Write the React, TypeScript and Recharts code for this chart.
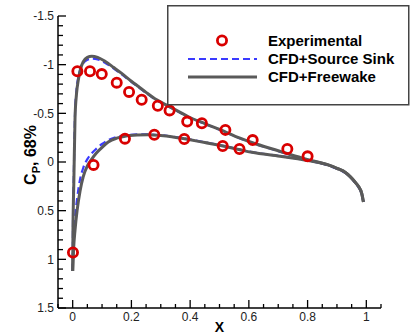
import React from 'react';
import { ComposedChart, Line, Scatter, XAxis, YAxis, Legend, Label } from 'recharts';

// ---------- data ----------
const expUpperX = [0.016, 0.059, 0.099, 0.15, 0.192, 0.235, 0.29, 0.33, 0.39, 0.44, 0.52, 0.613, 0.731, 0.8];
const expUpperCp = [-0.933, -0.933, -0.903, -0.815, -0.72, -0.64, -0.578, -0.53, -0.415, -0.398, -0.33, -0.225, -0.133, -0.058];
const expLowerX = [0.001, 0.071, 0.178, 0.278, 0.38, 0.511, 0.568];
const expLowerCp = [0.93, 0.03, -0.24, -0.28, -0.236, -0.164, -0.133];

const upperX = [0, 0.001, 0.004, 0.008, 0.013, 0.019, 0.027, 0.036, 0.05, 0.065, 0.085, 0.11, 0.14, 0.167, 0.2, 0.224, 0.25, 0.28, 0.32, 0.36, 0.394, 0.45, 0.5, 0.57, 0.61, 0.7, 0.76, 0.82, 0.87, 0.9, 0.93, 0.945, 0.96, 0.973, 0.985, 0.99];
const freewakeUpperCp = [1.12, 0.7, 0.2, -0.45, -0.7, -0.84, -0.96, -1.03, -1.075, -1.087, -1.075, -1.035, -0.97, -0.91, -0.83, -0.775, -0.715, -0.65, -0.585, -0.52, -0.465, -0.395, -0.335, -0.245, -0.2, -0.115, -0.06, -0.01, 0.03, 0.065, 0.11, 0.15, 0.2, 0.25, 0.33, 0.41];
const sourceSinkUpperCp = [1.12, 0.65, 0.1, -0.5, -0.74, -0.87, -0.96, -1.015, -1.05, -1.062, -1.055, -1.02, -0.96, -0.9, -0.822, -0.768, -0.71, -0.645, -0.58, -0.516, -0.462, -0.392, -0.332, -0.242, -0.197, -0.112, -0.056, -0.005, 0.035, 0.07, 0.115, 0.155, 0.205, 0.257, 0.335, 0.41];

const lowerX = [0, 0.003, 0.008, 0.015, 0.025, 0.036, 0.05, 0.065, 0.08, 0.1, 0.121, 0.15, 0.178, 0.22, 0.258, 0.3, 0.337, 0.4, 0.45, 0.5, 0.57, 0.61, 0.706, 0.76, 0.82, 0.87, 0.9, 0.93, 0.945, 0.96, 0.973, 0.985, 0.99];
const freewakeLowerCp = [1.12, 0.9, 0.7, 0.5, 0.3, 0.15, 0.04, -0.03, -0.09, -0.15, -0.205, -0.245, -0.265, -0.277, -0.28, -0.272, -0.26, -0.228, -0.2, -0.172, -0.125, -0.1, -0.06, -0.035, -0.005, 0.03, 0.065, 0.11, 0.15, 0.2, 0.25, 0.33, 0.41];
const sourceSinkLowerCp = [1.12, 0.82, 0.58, 0.38, 0.18, 0.06, -0.03, -0.09, -0.135, -0.185, -0.225, -0.258, -0.274, -0.283, -0.284, -0.275, -0.263, -0.23, -0.202, -0.174, -0.127, -0.102, -0.062, -0.037, -0.006, 0.03, 0.066, 0.112, 0.153, 0.203, 0.255, 0.335, 0.41];

const xTicks = [-0.05, 0, 0.05, 0.1, 0.15, 0.2, 0.25, 0.3, 0.35, 0.4, 0.45, 0.5, 0.55, 0.6, 0.65, 0.7, 0.75, 0.8, 0.85, 0.9, 0.95, 1, 1.05];
const xMajorTicks = [0, 0.2, 0.4, 0.6, 0.8, 1];
const xTickLabels = ['0', '0.2', '0.4', '0.6', '0.8', '1'];

const yTicks = [-1.5, -1.4, -1.3, -1.2, -1.1, -1, -0.9, -0.8, -0.7, -0.6, -0.5, -0.4, -0.3, -0.2, -0.1, 0, 0.1, 0.2, 0.3, 0.4, 0.5, 0.6, 0.7, 0.8, 0.9, 1, 1.1, 1.2, 1.3, 1.4, 1.5];
const yMajorTicks = [-1.5, -1, -0.5, 0, 0.5, 1, 1.5];
const yTickLabels = ['-1.5', '-1', '-0.5', '0', '0.5', '1', '1.5'];

const legendLabels = ['Experimental', 'CFD+Source Sink', 'CFD+Freewake'];

// ---------- helpers ----------
const toPoints = (xs: number[], ys: number[]) => xs.map((x, i) => ({ x, cp: ys[i] }));

const expData = [...toPoints(expUpperX, expUpperCp), ...toPoints(expLowerX, expLowerCp)];
const fwUpper = toPoints(upperX, freewakeUpperCp);
const fwLower = toPoints(lowerX, freewakeLowerCp);
const ssUpper = toPoints(upperX, sourceSinkUpperCp);
const ssLower = toPoints(lowerX, sourceSinkLowerCp);

const FONT = '"Liberation Sans", Arial, Helvetica, sans-serif';
const RED = '#d90000';
const BLUE = '#3a3aff';
const GRAY = '#5a5a5a';

const XTick = (props: any) => {
  const { x, y, payload } = props;
  const idx = xMajorTicks.indexOf(payload.value);
  const major = idx >= 0;
  return (
    <g>
      <line x1={x} x2={x} y1={y} y2={y - (major ? 8 : 4)} stroke="#000" strokeWidth={1.3} />
      {major && (
        <text x={x} y={y + 12.5} textAnchor="middle" fontSize={12} fontFamily={FONT} fill="#222">
          {xTickLabels[idx]}
        </text>
      )}
    </g>
  );
};

const YTick = (props: any) => {
  const { x, y, payload } = props;
  const idx = yMajorTicks.indexOf(payload.value);
  const major = idx >= 0;
  return (
    <g>
      <line x1={x} x2={x + (major ? 8 : 5)} y1={y} y2={y} stroke="#000" strokeWidth={1.3} />
      {major && (
        <text x={x - 4} y={y + 4.3} textAnchor="end" fontSize={12} fontFamily={FONT} fill="#222">
          {yTickLabels[idx]}
        </text>
      )}
    </g>
  );
};

const LegendBox = () => (
  <svg width={243} height={101} style={{ display: 'block' }}>
    <rect x={0.75} y={0.75} width={241} height={99} fill="none" stroke="#444" strokeWidth={1.5} />
    <circle cx={55} cy={35.5} r={4.6} fill="none" stroke={RED} strokeWidth={2.8} />
    <line x1={21} x2={90} y1={54} y2={54} stroke={BLUE} strokeWidth={2.2} strokeDasharray="7 4" />
    <line x1={21} x2={90} y1={72} y2={72} stroke={GRAY} strokeWidth={3} />
    {legendLabels.map((t, i) => (
      <text key={t} x={101} y={41 + i * 18} fontSize={15} fontWeight="bold" fontFamily={FONT} fill="#000">
        {t}
      </text>
    ))}
  </svg>
);

const ExpMarker = (props: any) => {
  const { cx, cy } = props;
  if (cx == null || cy == null) return null;
  return <circle cx={cx} cy={cy} r={4.6} fill="none" stroke={RED} strokeWidth={2.8} />;
};

export default function App() {
  return (
    <div style={{ position: 'absolute', left: 0, top: 0, width: 410, height: 334, background: '#fff' }}>
      <ComposedChart width={410} height={334} margin={{ top: 16, right: 29, bottom: 0, left: 0 }}>
        <XAxis
          type="number"
          dataKey="x"
          domain={[-0.05, 1.05]}
          ticks={xTicks}
          interval={0}
          tick={<XTick />}
          tickLine={false}
          tickSize={0}
          tickMargin={0}
          height={26}
          axisLine={{ stroke: '#000', strokeWidth: 1.5 }}
        >
          <Label
            content={(p: any) => {
              const vb = p.viewBox || { x: 58, width: 323, y: 308 };
              return (
                <text x={vb.x + vb.width / 2} y={332} textAnchor="middle" fontSize={14} fontWeight="bold" fontFamily={FONT} fill="#000">
                  X
                </text>
              );
            }}
          />
        </XAxis>
        <YAxis
          type="number"
          dataKey="cp"
          domain={[-1.5, 1.5]}
          reversed
          ticks={yTicks}
          interval={0}
          tick={<YTick />}
          tickLine={false}
          tickSize={0}
          tickMargin={0}
          width={58}
          axisLine={{ stroke: '#000', strokeWidth: 1.5 }}
        >
          <Label
            content={(p: any) => {
              const vb = p.viewBox || { y: 16, height: 292 };
              const cy = vb.y + vb.height / 2 - 7;
              return (
                <text transform={`translate(36,${cy}) rotate(-90)`} textAnchor="middle" fontSize={16} fontWeight="bold" fontFamily={FONT} fill="#000">
                  C<tspan fontSize={11} dy={4}>P</tspan><tspan dy={-4}>, 68%</tspan>
                </text>
              );
            }}
          />
        </YAxis>
        <Scatter data={expData} isAnimationActive={false} shape={<ExpMarker />} />
        <Line data={ssUpper} dataKey="cp" type="monotone" stroke={BLUE} strokeWidth={2.2} strokeDasharray="7 4" dot={false} activeDot={false} isAnimationActive={false} />
        <Line data={ssLower} dataKey="cp" type="monotone" stroke={BLUE} strokeWidth={2.2} strokeDasharray="7 4" dot={false} activeDot={false} isAnimationActive={false} />
        <Line data={fwUpper} dataKey="cp" type="monotone" stroke={GRAY} strokeWidth={3} dot={false} activeDot={false} isAnimationActive={false} />
        <Line data={fwLower} dataKey="cp" type="monotone" stroke={GRAY} strokeWidth={3} dot={false} activeDot={false} isAnimationActive={false} />
        <Legend
          verticalAlign="middle"
          align="center"
          layout="horizontal"
          wrapperStyle={{ position: 'absolute', left: 167, top: 5, width: 243, height: 101 }}
          content={() => <LegendBox />}
        />
      </ComposedChart>
    </div>
  );
}
